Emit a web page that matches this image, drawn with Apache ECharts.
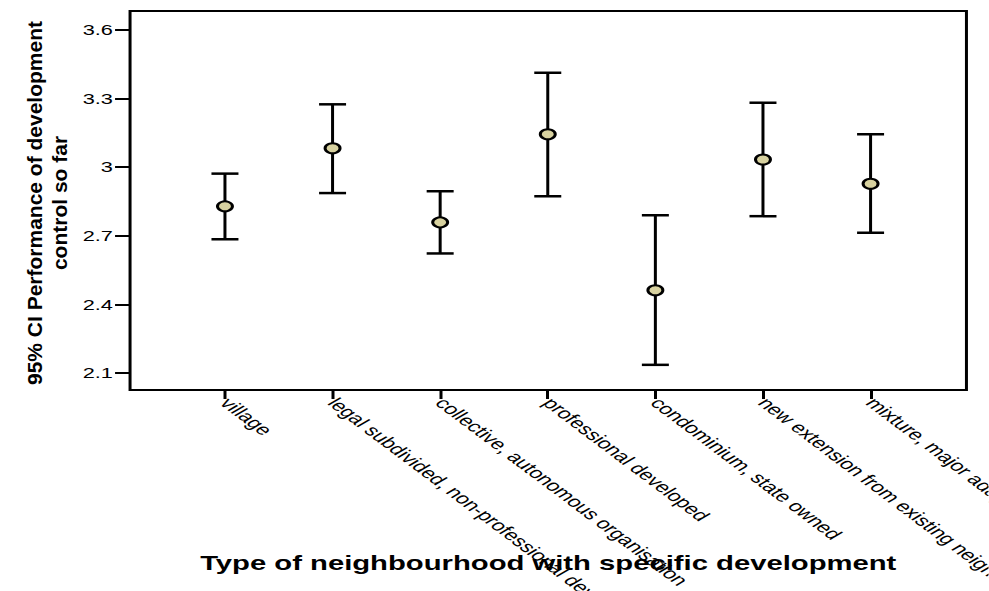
<!DOCTYPE html>
<html>
<head>
<meta charset="utf-8">
<script src="https://cdn.jsdelivr.net/npm/echarts@6/dist/echarts.min.js"></script>
<style>
  html, body { margin: 0; padding: 0; background: #fff; overflow: hidden; width: 989px; height: 591px; }
  /* The reference picture is a horizontally stretched chart; reproduce that stretch. */
  #chart { width: 659.33px; height: 591px; transform: scaleX(1.5); transform-origin: 0 0; }
</style>
</head>
<body>
<div id="chart"></div>
<script>
// ---- data ----
const categories = [
  'village',
  'legal subdivided, non-professional dev',
  'collective, autonomous organisation',
  'professional developed',
  'condominium, state owned',
  'new extension from existing neighbourhood',
  'mixture, major adaptation'
];
const means = [2.829, 3.083, 2.759, 3.144, 2.462, 3.034, 2.928];
const lower = [2.685, 2.887, 2.623, 2.873, 2.136, 2.786, 2.713];
const upper = [2.972, 3.275, 2.895, 3.413, 2.790, 3.282, 3.144];
const yTicks = [2.1, 2.4, 2.7, 3.0, 3.3, 3.6];
const xTicks = categories.map((c, i) => i);
const yTitle = '95% CI Performance of development\ncontrol so far';
const xTitle = 'Type of neighbourhood with specific development';

const chart = echarts.init(document.getElementById('chart'), null, { renderer: 'svg' });
const FONT = 'Liberation Sans, Arial, sans-serif';

const barData = categories.map((c, i) => [i, lower[i], upper[i]]);
const meanData = categories.map((c, i) => [i, means[i]]);

chart.setOption({
  animation: false,
  backgroundColor: '#fff',
  grid: {
    left: 86.7, right: 14.7, top: 11, bottom: 201,
    outerBoundsMode: 'none',
    containLabel: false,
    show: true, borderColor: '#000', borderWidth: 2, backgroundColor: '#fff'
  },
  xAxis: {
    type: 'value',
    min: -0.882, max: 6.891,
    name: xTitle,
    nameLocation: 'middle',
    nameGap: 163,
    nameMoveOverlap: false,
    nameTextStyle: { fontFamily: FONT, fontSize: 19.5, fontWeight: 'bold', color: '#000' },
    axisLine: { show: false, onZero: false },
    splitLine: { show: false },
    axisTick: { show: true, customValues: xTicks, length: 9, inside: false, lineStyle: { color: '#000', width: 2 } },
    axisLabel: {
      customValues: xTicks,
      rotate: -48.4,
      margin: 10,
      hideOverlap: false,
      fontFamily: FONT, fontSize: 15.4, color: '#000',
      formatter: v => categories[Math.round(v)] || ''
    }
  },
  yAxis: {
    type: 'value',
    min: 2.026, max: 3.683,
    axisLine: { show: false, onZero: false },
    splitLine: { show: false },
    axisTick: { show: true, customValues: yTicks, length: 10, lineStyle: { color: '#000', width: 2 } },
    axisLabel: {
      customValues: yTicks,
      margin: 11.4,
      fontFamily: FONT, fontSize: 14.5, color: '#000',
      formatter: v => String(+(+v).toFixed(1))
    }
  },
  graphic: [{
    type: 'text',
    x: 31.5, y: 203,
    rotation: Math.PI / 2,
    scaleY: 1 / 1.5,
    style: {
      text: yTitle,
      fontFamily: FONT, fontSize: 21, fontWeight: 'bold',
      fill: '#000', align: 'center', verticalAlign: 'middle', lineHeight: 25
    }
  }],
  series: [
    {
      type: 'custom',
      data: barData,
      z: 2,
      renderItem: function (params, api) {
        const x = api.value(0);
        const lo = api.coord([x, api.value(1)]);
        const hi = api.coord([x, api.value(2)]);
        const hw = 9;
        const st = { stroke: '#000', lineWidth: 2 };
        const cap = { stroke: '#000', lineWidth: 2.5 };
        return {
          type: 'group',
          children: [
            { type: 'line', shape: { x1: lo[0], y1: lo[1], x2: hi[0], y2: hi[1] }, style: st },
            { type: 'line', shape: { x1: lo[0] - hw, y1: lo[1], x2: lo[0] + hw, y2: lo[1] }, style: cap },
            { type: 'line', shape: { x1: hi[0] - hw, y1: hi[1], x2: hi[0] + hw, y2: hi[1] }, style: cap }
          ]
        };
      }
    },
    {
      type: 'scatter',
      data: meanData,
      z: 3,
      symbol: 'circle',
      symbolSize: 10,
      itemStyle: { color: '#d8d2a0', borderColor: '#000', borderWidth: 2, opacity: 1 }
    }
  ]
});
</script>
</body>
</html>
